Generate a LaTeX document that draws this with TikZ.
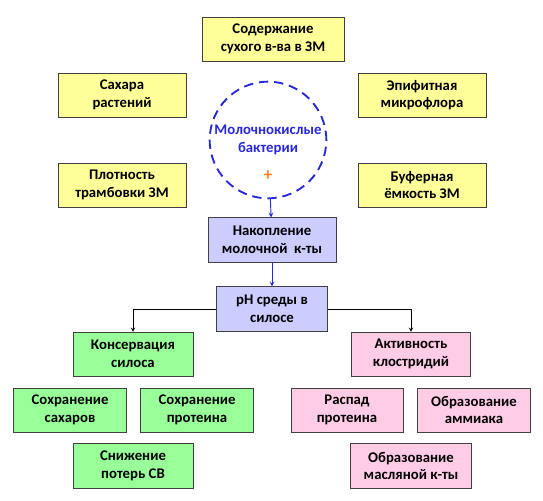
\documentclass[tikz,border=0pt]{standalone}
\usepackage{fontspec}
\setmainfont{Carlito}
\usepackage{tikz}
\usetikzlibrary{shapes,arrows,positioning}

\definecolor{factfill}{HTML}{FFFF99}
\definecolor{midfill}{HTML}{CCCCFF}
\definecolor{goodfill}{HTML}{99FF99}
\definecolor{badfill}{HTML}{FFCCE6}
\definecolor{bactblue}{HTML}{2828D8}
\definecolor{plusorange}{HTML}{FF7F27}
\definecolor{boxedge}{HTML}{404040}

\begin{document}
\begin{tikzpicture}[
    x=0.03cm, y=-0.03cm,
    every node/.style={font=\fontsize{12.6}{15}\selectfont\bfseries, align=center},
    factor/.style={rectangle, draw=boxedge, fill=factfill, minimum width=3.84cm, minimum height=1.32cm, inner sep=1pt},
    midbox/.style={rectangle, draw=boxedge, fill=midfill, minimum height=1.34cm, inner sep=1pt},
    good/.style={rectangle, draw=boxedge, fill=goodfill, minimum width=3.4cm, minimum height=1.32cm, inner sep=1pt},
    bad/.style={rectangle, draw=boxedge, fill=badfill, minimum width=3.4cm, minimum height=1.32cm, inner sep=1pt},
    bluearrow/.style={->, >=stealth, draw=bactblue, thick},
    arrow/.style={->, >=stealth, semithick}
]
    \useasboundingbox (0,0) rectangle (543,500);

    % Factors
    \node[factor, minimum width=4.26cm] (dry) at (273,39) {Содержание\\сухого в-ва в ЗМ};
    \node[factor] (sugar) at (122,95) {Сахара\\растений};
    \node[factor] (epi) at (422,95) {Эпифитная\\микрофлора};
    \node[factor] (dens) at (122,185) {Плотность\\трамбовки ЗМ};
    \node[factor] (buff) at (422,185) {Буферная\\ёмкость ЗМ};

    % Bacteria
    \node[circle, draw=bactblue, line width=1.6pt, dash pattern=on 8pt off 5pt,
          minimum size=3.5cm, text=bactblue, inner sep=0pt] (lab) at (268,140) {Молочнокислые\\бактерии};
    \node[text=plusorange, font=\fontsize{15}{15}\selectfont\bfseries] (plus) at (268,176) {+};

    % Acid and pH
    \node[midbox, minimum width=3.84cm] (acid) at (272,240) {Накопление\\молочной~ к-ты};
    \node[midbox, minimum width=3.33cm] (ph) at (272,309) {pH среды в\\силосе};

    % Results
    \node[good, minimum width=3.6cm] (keep) at (133,354) {Консервация\\силоса};
    \node[bad, minimum width=3.57cm] (clos) at (411,354) {Активность\\клостридий};
    \node[good] (ksug) at (70,410) {Сохранение\\сахаров};
    \node[good] (kprot) at (197,410) {Сохранение\\протеина};
    \node[good, minimum width=3.6cm, minimum height=1.35cm] (loss) at (133,466) {Снижение\\потерь СВ};
    \node[bad, minimum width=3.36cm] (decay) at (347,410) {Распад\\протеина};
    \node[bad] (ammo) at (474,410) {Образование\\аммиака};
    \node[bad, minimum width=3.63cm, minimum height=1.35cm] (butyr) at (411,466) {Образование\\масляной к-ты};

    % Connections
    \draw[bluearrow] (lab) -- (acid);
    \draw[bluearrow] (acid) -- (ph);
    \draw[arrow] (ph.west) -| (keep.north);
    \draw[arrow] (ph.east) -| (clos.north);
\end{tikzpicture}
\end{document}
